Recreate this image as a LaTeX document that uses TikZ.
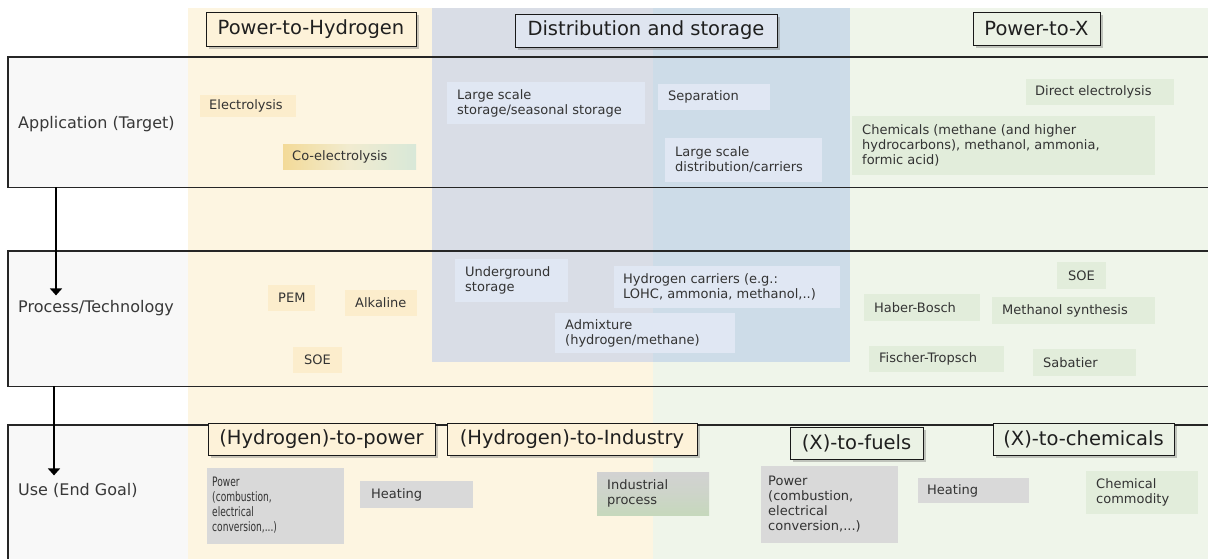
\documentclass[tikz,border=0pt]{standalone}
\usepackage{fontspec}
\setmainfont{DejaVu Sans}
\usetikzlibrary{arrows.meta,shadows}

\definecolor{rowgrey}{HTML}{F8F8F8}
\definecolor{colY}{HTML}{FDF5E1}
\definecolor{colG}{HTML}{EFF5EA}
\definecolor{blueY}{HTML}{D9DDE6}
\definecolor{blueG}{HTML}{CDDCE8}
\definecolor{tagY}{HTML}{FCEDCC}
\definecolor{tagB}{HTML}{E0E7F3}
\definecolor{tagG}{HTML}{E2EDDB}
\definecolor{tagGrey}{HTML}{D9D9D9}
\definecolor{hdrY}{HTML}{FDF2D9}
\definecolor{hdrB}{HTML}{DFE5F0}
\definecolor{hdrG}{HTML}{EBF2E5}
\definecolor{coelL}{HTML}{F3DA98}
\definecolor{coelR}{HTML}{D8E8D8}
\definecolor{indT}{HTML}{D2D2D2}
\definecolor{indB}{HTML}{C6D8BC}

\begin{document}
\begin{tikzpicture}[x=1pt,y=-1pt,
  rowbox/.style={anchor=north west, fill=rowgrey, minimum width=1210, inner sep=0},
  rowline/.style={draw=black!85, line width=1.1pt},
  hdr/.style={draw=black!90, line width=0.9pt, inner sep=0, text=black!88,
    font=\fontsize{19.5}{22}\selectfont,
    drop shadow={shadow xshift=2.5pt,shadow yshift=-2.5pt,opacity=0.35,fill=black!60}},
  lbl/.style={anchor=west, inner sep=0, text=black!78, font=\fontsize{16}{19}\selectfont},
  tag/.style={anchor=west, align=left, inner sep=0, text=black!80, font=\fontsize{13}{15}\selectfont},
  flow/.style={line width=1.8pt, -{Triangle[width=12pt,length=7pt]}}]
  \useasboundingbox (0,0) rectangle (1208,558);
  \clip (0,0) rectangle (1208,558);

  % Row frames (fill only, outlines come after the columns)
  \node[rowbox, minimum height=130] (rowapp) at (8,57) {};
  \node[rowbox, minimum height=135] (rowproc) at (8,251) {};
  \node[rowbox, minimum height=140] (rowuse) at (8,425) {};

  % Columns: power-to-hydrogen and power-to-x
  \fill[colY] (188,8) rectangle (653,560);
  \fill[colG] (653,8) rectangle (1210,560);

  % Distribution and storage overlay
  \fill[blueY] (432,8) rectangle (653,362);
  \fill[blueG] (653,8) rectangle (850,362);

  % Row outlines
  \draw[rowline] (rowapp.north west) rectangle (rowapp.south east);
  \draw[rowline] (rowproc.north west) rectangle (rowproc.south east);
  \draw[rowline] (rowuse.north west) rectangle (rowuse.south east);

  % Row labels
  \node[lbl] (lblapp) at (18,124) {Application (Target)};
  \node[lbl] (lblproc) at (18,308) {Process/Technology};
  \node[lbl] (lbluse) at (18,490) {Use (End Goal)};

  % Arrows between the rows
  \draw[flow] ([xshift=48pt]rowapp.south west) -- ++(0,108);
  \draw[flow] ([xshift=46pt]rowproc.south west) -- ++(0,89);

  % Application row
  \fill[tagY] (200,95) rectangle (296,117);
  \node[tag] (elec) at (209,106) {Electrolysis};
  \shade[left color=coelL, right color=coelR, middle color=tagY!70!coelR]
    (283,144) rectangle (416,169);
  \node[tag] (coelec) at (292,156.5) {Co-electrolysis};
  \fill[tagB] (447,82) rectangle (645,124);
  \node[tag] (lsstor) at (457,103) {Large scale\\storage/seasonal storage};
  \fill[tagB] (658,84) rectangle (770,110);
  \node[tag] (sep) at (668,97) {Separation};
  \fill[tagB] (665,138) rectangle (822,182);
  \node[tag] (lsdist) at (675,160) {Large scale\\distribution/carriers};
  \fill[tagG] (1026,79) rectangle (1174,105);
  \node[tag] (direlec) at (1035,92) {Direct electrolysis};
  \fill[tagG] (852,116) rectangle (1155,175);
  \node[tag] (chem) at (862,145.5) {Chemicals (methane (and higher\\hydrocarbons), methanol, ammonia,\\formic acid)};

  % Process row
  \fill[tagY] (268,285) rectangle (315,311);
  \node[tag] (pem) at (278,298) {PEM};
  \fill[tagY] (345,290) rectangle (417,316);
  \node[tag] (alk) at (355,303) {Alkaline};
  \fill[tagY] (293,347) rectangle (342,373);
  \node[tag] (soeh) at (304,360) {SOE};
  \fill[tagB] (455,259) rectangle (568,302);
  \node[tag] (ugstor) at (465,280.5) {Underground\\storage};
  \fill[tagB] (614,266) rectangle (840,308);
  \node[tag] (carr) at (623,287) {Hydrogen carriers (e.g.:\\LOHC, ammonia, methanol,..)};
  \fill[tagB] (555,313) rectangle (735,353);
  \node[tag] (admix) at (565,333) {Admixture\\(hydrogen/methane)};
  \fill[tagG] (1057,262) rectangle (1106,289);
  \node[tag] (soex) at (1068,275.5) {SOE};
  \fill[tagG] (864,294) rectangle (980,321);
  \node[tag] (haber) at (874,307.5) {Haber-Bosch};
  \fill[tagG] (992,297) rectangle (1155,324);
  \node[tag] (meoh) at (1002,310.5) {Methanol synthesis};
  \fill[tagG] (869,346) rectangle (1004,372);
  \node[tag] (fischer) at (879,359) {Fischer-Tropsch};
  \fill[tagG] (1033,349) rectangle (1136,376);
  \node[tag] (sabat) at (1043,362.5) {Sabatier};

  % Use row
  \fill[tagGrey] (207,468) rectangle (344,544);
  \node[tag] (powh) at (212,506)
    {\scalebox{0.7}[1]{\begin{tabular}{@{}l@{}}Power\\(combustion,\\electrical\\conversion,...)\end{tabular}}};
  \fill[tagGrey] (360,481) rectangle (473,508);
  \node[tag] (heath) at (371,494.5) {Heating};
  \shade[top color=indT, bottom color=indB, middle color=indT!60!indB]
    (597,472) rectangle (709,515);
  \node[tag] (indus) at (607,493.5) {Industrial\\process};
  \fill[tagGrey] (761,466) rectangle (898,543);
  \node[tag] (powx) at (768,504.5) {Power\\(combustion,\\electrical\\conversion,...)};
  \fill[tagGrey] (918,478) rectangle (1029,503);
  \node[tag] (heatx) at (927,490.5) {Heating};
  \fill[tagG] (1086,471) rectangle (1198,514);
  \node[tag] (commod) at (1096,492.5) {Chemical\\commodity};

  % Column headers
  \node[hdr, fill=hdrY, minimum width=210, minimum height=34] (pth) at (311,29) {Power-to-Hydrogen};
  \node[hdr, fill=hdrB, minimum width=262, minimum height=33] (dist) at (646,30.5) {Distribution and storage};
  \node[hdr, fill=hdrG, minimum width=127, minimum height=33] (ptx) at (1036.5,28.5) {Power-to-X};

  % Use headers
  \node[hdr, fill=hdrY, minimum width=227, minimum height=32] (h2pow) at (321.5,439) {(Hydrogen)-to-power};
  \node[hdr, fill=hdrY, minimum width=250, minimum height=32] (h2ind) at (572,439) {(Hydrogen)-to-Industry};
  \node[hdr, fill=hdrG, minimum width=133, minimum height=32] (xfuel) at (856.5,443) {(X)-to-fuels};
  \node[hdr, fill=hdrG, minimum width=181, minimum height=32] (xchem) at (1083.5,439) {(X)-to-chemicals};

\end{tikzpicture}
\end{document}
